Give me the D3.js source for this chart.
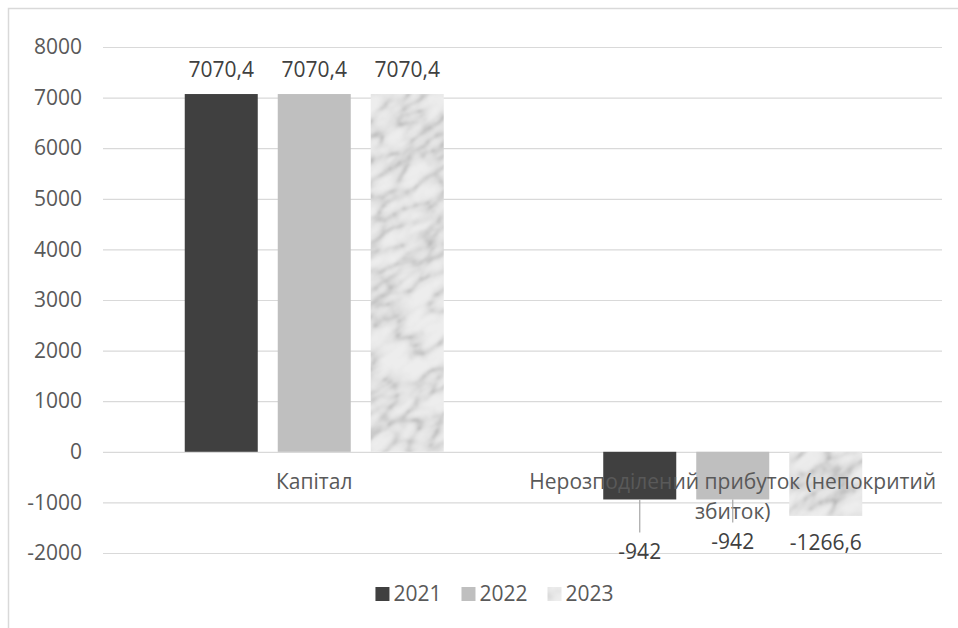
<!DOCTYPE html>
<html>
<head>
<meta charset="utf-8">
<script src="https://cdn.jsdelivr.net/npm/d3@7"></script>
<style>
  html, body { margin: 0; padding: 0; background: #fff; }
  svg { display: block; font-family: "Open Sans", sans-serif; }
</style>
</head>
<body>
<svg id="chart" width="958" height="628"></svg>
<script>
// Balance-sheet items and their values by year
const categories = ["Капітал", "Нерозподілений прибуток (непокритий збиток)"];
const years = ["2021", "2022", "2023"];
const values2021 = [7070.4, -942];
const values2022 = [7070.4, -942];
const values2023 = [7070.4, -1266.6];
const valueLabels2021 = ["7070,4", "-942"];
const valueLabels2022 = ["7070,4", "-942"];
const valueLabels2023 = ["7070,4", "-1266,6"];
const yTicks = [-2000, -1000, 0, 1000, 2000, 3000, 4000, 5000, 6000, 7000, 8000];

const seriesValues = [values2021, values2022, values2023];
const seriesLabels = [valueLabels2021, valueLabels2022, valueLabels2023];

const svg = d3.select("#chart");
const W = 958, H = 628;
const plot = { left: 103, right: 942, top: 47, bottom: 553 };
const FS = 21;

// Marble texture for the 2023 series: one large filtered tile, rotated so the veins run diagonally
const defs = svg.append("defs");
const marble = defs.append("filter")
  .attr("id", "marbleNoise")
  .attr("x", 0).attr("y", 0).attr("width", "100%").attr("height", "100%")
  .attr("color-interpolation-filters", "sRGB");
marble.append("feTurbulence")
  .attr("type", "turbulence")
  .attr("baseFrequency", "0.022 0.05")
  .attr("numOctaves", 4)
  .attr("seed", 11)
  .attr("result", "noise");
marble.append("feColorMatrix")
  .attr("in", "noise")
  .attr("type", "matrix")
  .attr("values", "1 0 0 0 0  1 0 0 0 0  1 0 0 0 0  0 0 0 0 1")
  .attr("result", "grey");
const ct = marble.append("feComponentTransfer").attr("in", "grey").attr("result", "tone");
["feFuncR", "feFuncG", "feFuncB"].forEach(f =>
  ct.append(f).attr("type", "table")
    .attr("tableValues", "0.66 0.8 0.87 0.9 0.92 0.93 0.93 0.93 0.93 0.93"));
marble.append("feGaussianBlur").attr("in", "tone").attr("stdDeviation", 1.1);

const TILE = 2400;
const pat = defs.append("pattern")
  .attr("id", "marble")
  .attr("patternUnits", "userSpaceOnUse")
  .attr("width", TILE).attr("height", TILE)
  .attr("patternTransform", `rotate(-35 ${W / 2} ${H / 2}) translate(${W / 2 - TILE / 2},${H / 2 - TILE / 2})`);
pat.append("rect")
  .attr("width", TILE).attr("height", TILE)
  .attr("fill", "#fff")
  .attr("filter", "url(#marbleNoise)");

const fills = ["#404040", "#bfbfbf", "url(#marble)"];

// Chart frame
svg.append("path")
  .attr("d", `M8.5,${H} V8.5 H${W}`)
  .attr("fill", "none").attr("stroke", "#d9d9d9").attr("stroke-width", 1.5);

// Scales
const y = d3.scaleLinear().domain([-2000, 8000]).range([plot.bottom, plot.top]);
const x0 = d3.scaleBand().domain(categories).range([plot.left + 2, plot.right]).padding(0);
const x1 = d3.scaleBand().domain(years).range([0, x0.bandwidth()])
  .paddingInner(0.215).paddingOuter(0.8575);

// Gridlines and value axis
const yAxis = d3.axisLeft(y).tickValues(yTicks).tickSize(-(plot.right - plot.left)).tickPadding(21)
  .tickFormat(d => String(d));
const gy = svg.append("g").attr("transform", `translate(${plot.left},0)`).call(yAxis);
gy.select(".domain").remove();
gy.selectAll(".tick line").attr("stroke", "#d9d9d9").attr("stroke-width", 1.2);
gy.selectAll(".tick text").attr("fill", "#595959").attr("font-size", FS)
  .attr("font-family", "'Open Sans', sans-serif");

// Bars
const groups = svg.append("g").selectAll("g")
  .data(categories).join("g")
  .attr("transform", d => `translate(${x0(d)},0)`);

years.forEach((yr, si) => {
  groups.append("rect")
    .attr("x", x1(yr))
    .attr("width", x1.bandwidth())
    .attr("y", (d, ci) => y(Math.max(0, seriesValues[si][ci])))
    .attr("height", (d, ci) => Math.abs(y(seriesValues[si][ci]) - y(0)))
    .attr("fill", fills[si]);
});

// Category labels with wrapping
function wrap(textSel, width) {
  textSel.each(function () {
    const text = d3.select(this);
    const words = text.text().split(/\s+/);
    const xx = text.attr("x");
    text.text(null);
    let line = [];
    let tspan = text.append("tspan").attr("x", xx).attr("dy", 0);
    words.forEach(w => {
      line.push(w);
      tspan.text(line.join(" "));
      if (tspan.node().getComputedTextLength() > width && line.length > 1) {
        line.pop();
        tspan.text(line.join(" "));
        line = [w];
        tspan = text.append("tspan").attr("x", xx).attr("dy", 30).text(w);
      }
    });
  });
}
svg.append("g").selectAll("text")
  .data(categories).join("text")
  .attr("x", d => x0(d) + x0.bandwidth() / 2)
  .attr("y", 489)
  .attr("text-anchor", "middle")
  .attr("fill", "#595959")
  .attr("font-size", FS)
  .text(d => d)
  .call(wrap, x0.bandwidth());

// Data labels (the negative ones sit below the bars, two of them on leader lines)
const labelOffsetsNeg = [60, 50, 34];
const leaderLen = [33, 23, 0];
years.forEach((yr, si) => {
  categories.forEach((cat, ci) => {
    const v = seriesValues[si][ci];
    const cx = x0(cat) + x1(yr) + x1.bandwidth() / 2;
    if (v >= 0) {
      svg.append("text")
        .attr("x", cx).attr("y", y(v) - 17)
        .attr("text-anchor", "middle").attr("fill", "#404040").attr("font-size", FS)
        .text(seriesLabels[si][ci]);
    } else {
      if (leaderLen[si] > 0) {
        svg.append("line")
          .attr("x1", cx).attr("x2", cx)
          .attr("y1", y(v)).attr("y2", y(v) + leaderLen[si])
          .attr("stroke", "#a6a6a6").attr("stroke-width", 1.2);
      }
      svg.append("text")
        .attr("x", cx).attr("y", y(v) + labelOffsetsNeg[si])
        .attr("text-anchor", "middle").attr("fill", "#404040").attr("font-size", FS)
        .text(seriesLabels[si][ci]);
    }
  });
});

// Legend
const legend = svg.append("g");
let lx = 0;
years.forEach((yr, si) => {
  const g = legend.append("g").attr("transform", `translate(${lx},0)`);
  g.append("rect").attr("x", 0).attr("y", 587).attr("width", 14).attr("height", 14)
    .attr("fill", fills[si]);
  const t = g.append("text").attr("x", 18).attr("y", 601)
    .attr("fill", "#595959").attr("font-size", FS).text(yr);
  lx += 18 + t.node().getComputedTextLength() + 20;
});
const legendWidth = lx - 20;
legend.attr("transform", `translate(${494.5 - legendWidth / 2},0)`);
</script>
</body>
</html>
